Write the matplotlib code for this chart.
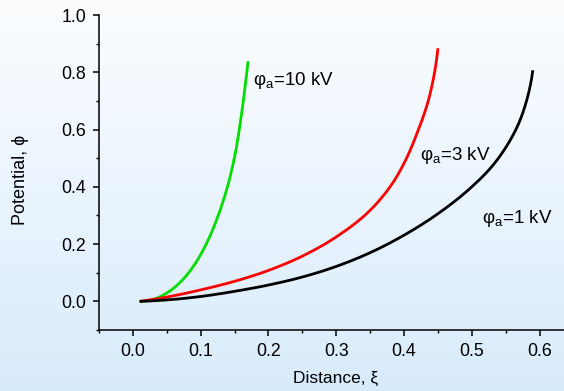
#
#   Potential distribution phi(xi) for three anode voltages
#

import matplotlib.pyplot as plt
import numpy as np

# curve data read as (distance, potential) pairs

xi_10kv  = [0.010, 0.030, 0.050, 0.070, 0.090, 0.110, 0.125, 0.140, 0.150,
            0.160, 0.165, 0.170]
phi_10kv = [0.000, 0.007, 0.029, 0.067, 0.125, 0.209, 0.294, 0.404, 0.504,
            0.649, 0.739, 0.839]

xi_3kv  = [0.010, 0.050, 0.100, 0.150, 0.200, 0.250, 0.300, 0.350, 0.380,
           0.400, 0.420, 0.435, 0.445, 0.450]
phi_3kv = [0.000, 0.015, 0.040, 0.070, 0.108, 0.158, 0.225, 0.318, 0.402,
           0.482, 0.592, 0.694, 0.799, 0.884]

xi_1kv  = [0.010, 0.050, 0.100, 0.150, 0.200, 0.250, 0.300, 0.350, 0.400,
           0.450, 0.500, 0.530, 0.550, 0.570, 0.580, 0.590]
phi_1kv = [0.000, 0.005, 0.017, 0.035, 0.057, 0.085, 0.122, 0.170, 0.231,
           0.306, 0.400, 0.472, 0.537, 0.626, 0.694, 0.807]

labels = ['φ$_\\mathregular{a}$=10 kV',
          'φ$_\\mathregular{a}$=3 kV',
          'φ$_\\mathregular{a}$=1 kV']

x_ticks = [0.0, 0.1, 0.2, 0.3, 0.4, 0.5, 0.6]
y_ticks = [0.0, 0.2, 0.4, 0.6, 0.8, 1.0]

plt.rcParams['font.family'] = ['Liberation Sans', 'DejaVu Sans']
plt.rcParams['mathtext.fontset'] = 'custom'
plt.rcParams['mathtext.rm'] = 'Liberation Sans'


def hermite(s, v, ss):
    # cubic Hermite of v(s) with three-point slopes
    h = np.diff(s)
    d = np.diff(v) / h
    m = np.zeros_like(v)
    m[0] = d[0] - (d[1] - d[0]) * h[0] / (h[0] + h[1])
    m[-1] = d[-1] + (d[-1] - d[-2]) * h[-1] / (h[-1] + h[-2])
    for k in range(1, len(s) - 1):
        m[k] = (h[k] * d[k - 1] + h[k - 1] * d[k]) / (h[k - 1] + h[k])
    idx = np.clip(np.searchsorted(s, ss) - 1, 0, len(s) - 2)
    t = (ss - s[idx]) / h[idx]
    h00 = 2 * t**3 - 3 * t**2 + 1
    h10 = t**3 - 2 * t**2 + t
    h01 = -2 * t**3 + 3 * t**2
    h11 = t**3 - t**2
    return h00 * v[idx] + h10 * h[idx] * m[idx] + h01 * v[idx + 1] + h11 * h[idx] * m[idx + 1]


def smooth(x, y, n=400):
    # parametric spline along chord length, in roughly screen-equal units
    x = np.asarray(x, float)
    y = np.asarray(y, float)
    s = np.concatenate([[0], np.cumsum(np.hypot(np.diff(x) * 6.8, np.diff(y) * 2.86))])
    ss = np.linspace(0, s[-1], n)
    return hermite(s, x, ss), hermite(s, y, ss)


f = plt.figure(figsize=(5.64, 3.91), dpi=100)

# soft white-to-blue backdrop

bg = f.add_axes([0, 0, 1, 1], zorder=-10)
grad = np.linspace(0, 1, 256).reshape(-1, 1)
top = np.array([0.985, 0.992, 1.0])
bot = np.array([0.850, 0.922, 0.985])
img = top + (bot - top) * grad[..., None]
bg.imshow(img, aspect='auto', extent=[0, 1, 0, 1])
bg.axis('off')

ax = f.add_axes([0.1755, 0.156, 0.8245, 0.8056])
ax.patch.set_alpha(0)

ax.plot(*smooth(xi_10kv, phi_10kv), color='#00dd00', lw=2.0, solid_capstyle='butt')
ax.plot(*smooth(xi_3kv, phi_3kv), color='#ff0000', lw=2.0, solid_capstyle='butt')
ax.plot(*smooth(xi_1kv, phi_1kv), color='black', lw=2.0, solid_capstyle='butt')

ax.text(0.177, 0.77, labels[0], fontsize=13.5, va='center')
ax.text(0.424, 0.51, labels[1], fontsize=13.5, va='center')
ax.text(0.515, 0.29, labels[2], fontsize=13.5, va='center')

ax.set_xlim(-0.05, 0.636)
ax.set_ylim(-0.1, 1.0)

ax.set_xticks(x_ticks)
ax.set_xticks(np.arange(-0.05, 0.64, 0.05), minor=True)
ax.set_yticks(y_ticks)
ax.set_yticks(np.arange(-0.1, 1.01, 0.1), minor=True)
ax.xaxis.set_major_formatter(plt.FormatStrFormatter('%.1f'))
ax.yaxis.set_major_formatter(plt.FormatStrFormatter('%.1f'))

for s in ['top', 'right']:
    ax.spines[s].set_visible(False)
for s in ['left', 'bottom']:
    ax.spines[s].set_linewidth(1.1)

ax.tick_params(which='major', direction='out', length=4.5, width=1.1,
    labelsize=12.8, pad=4.5)
ax.tick_params(which='minor', direction='out', length=2.2, width=1.0)

ax.set_xlabel('Distance, ξ', fontsize=12.5)
ax.set_ylabel('Potential, ϕ', fontsize=13)
ax.xaxis.set_label_coords(0.508, -0.13)
ax.yaxis.set_label_coords(-0.15, 0.476)

f.savefig('out.png', dpi=100)
